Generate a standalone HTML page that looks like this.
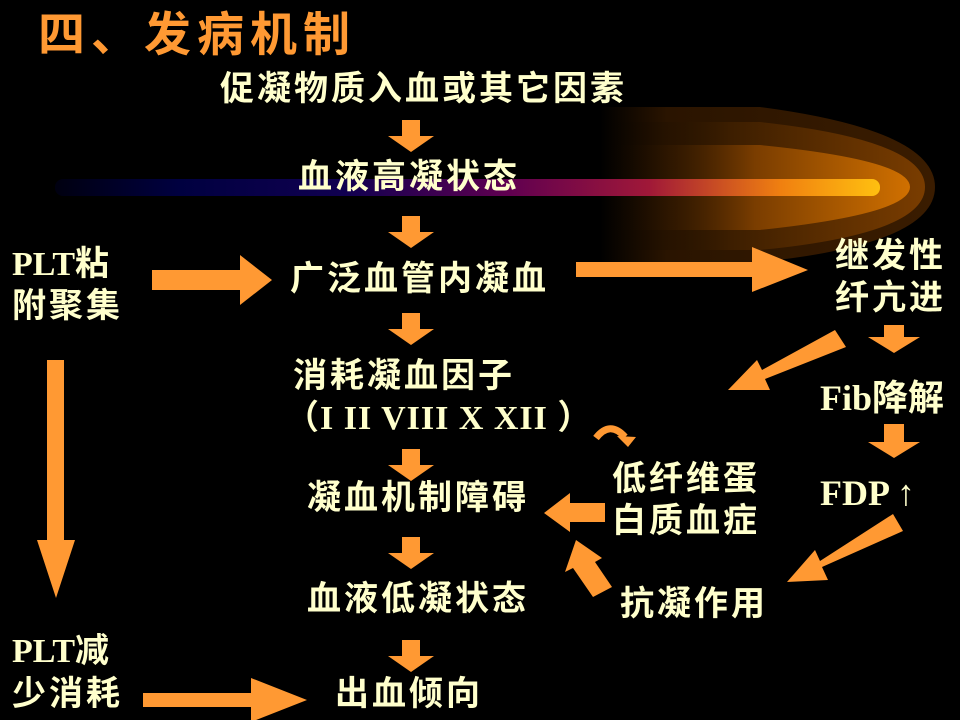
<!DOCTYPE html>
<html><head><meta charset="utf-8"><style>
html,body{margin:0;padding:0;background:#000;}
svg{display:block}
.t{font-family:"Liberation Sans","Noto Sans CJK SC",sans-serif;font-size:34px;fill:#ffffcc;font-weight:bold;letter-spacing:3px}
.s{font-family:"Liberation Serif","Noto Sans CJK SC",serif;font-size:34px;fill:#ffffcc;font-weight:bold}
</style></head><body>
<svg width="960" height="720" viewBox="0 0 960 720" xmlns="http://www.w3.org/2000/svg">
<defs>
<linearGradient id="ln" x1="0" x2="1">
<stop offset="0" stop-color="#000010"/>
<stop offset="0.15" stop-color="#000040"/>
<stop offset="0.35" stop-color="#100050"/>
<stop offset="0.55" stop-color="#600050"/>
<stop offset="0.72" stop-color="#a01838"/>
<stop offset="0.88" stop-color="#f08010"/>
<stop offset="1" stop-color="#ffc010"/>
</linearGradient>
<linearGradient id="g0" x1="0" x2="1">
<stop offset="0" stop-color="#2a1400" stop-opacity="0"/>
<stop offset="0.2" stop-color="#2a1400"/>
<stop offset="1" stop-color="#3a1c00"/>
</linearGradient>
<linearGradient id="gl" x1="0" x2="1">
<stop offset="0" stop-color="#000" stop-opacity="0"/>
<stop offset="0.4" stop-color="#402000"/>
<stop offset="1" stop-color="#8a4500"/>
</linearGradient>
<linearGradient id="gl2" x1="0" x2="1">
<stop offset="0" stop-color="#000" stop-opacity="0"/>
<stop offset="0.5" stop-color="#7a3d00"/>
<stop offset="1" stop-color="#d07000"/>
</linearGradient>
</defs>
<rect width="960" height="720" fill="#000"/>
<!-- comet -->
<path d="M600,107 L760,107 Q935,130 935,187 Q935,244 760,262 L600,262 Z" fill="url(#g0)"/>
<path d="M600,122 L760,122 Q925,140 925,187 Q925,234 760,250 L600,250 Z" fill="url(#gl)" opacity="0.8"/>
<path d="M600,145 L760,145 Q910,160 910,187 Q910,214 760,230 L600,230 Z" fill="url(#gl2)"/>
<rect x="55" y="179" width="825" height="17" rx="8" fill="url(#ln)"/>

<text x="38" y="51" style="font-family:'Liberation Sans','Noto Sans CJK SC',sans-serif;font-size:47px;font-weight:bold;fill:#ff9933;letter-spacing:6px">四、发病机制</text>
<text class="t" x="220" y="100">促凝物质入血或其它因素</text>
<text class="t" x="298" y="188">血液高凝状态</text>
<text class="t" x="290" y="290">广泛血管内凝血</text>
<text class="t" x="293" y="387">消耗凝血因子</text>
<text class="s" x="285" y="429" style="letter-spacing:1px">（I  II  VIII X XII ）</text>
<text class="t" x="307" y="509">凝血机制障碍</text>
<text class="t" x="307" y="610">血液低凝状态</text>
<text class="t" x="335" y="705">出血倾向</text>
<text class="s" x="12" y="275">PLT粘</text>
<text class="t" x="12" y="317">附聚集</text>
<text class="s" x="12" y="662">PLT减</text>
<text class="t" x="12" y="705">少消耗</text>
<text class="t" x="835" y="267">继发性</text>
<text class="t" x="835" y="309">纤亢进</text>
<text class="s" x="820" y="410" style="font-size:36px">Fib降解</text>
<text class="s" x="820" y="505" style="font-size:36px">FDP ↑</text>
<text class="t" x="612" y="490">低纤维蛋</text>
<text class="t" x="612" y="532">白质血症</text>
<text class="t" x="620" y="615">抗凝作用</text>

<g fill="#ff9933">
<path d="M402,120 h18 v16 h14 l-23,16 l-23,-16 h14z"/>
<path d="M402,216 h18 v16 h14 l-23,16 l-23,-16 h14z"/>
<path d="M402,313 h18 v16 h14 l-23,16 l-23,-16 h14z"/>
<path d="M402,449 h18 v16 h14 l-23,16 l-23,-16 h14z"/>
<path d="M402,537 h18 v16 h14 l-23,16 l-23,-16 h14z"/>
<path d="M402,640 h18 v16 h14 l-23,16 l-23,-16 h14z"/>
<path d="M884,325 h20 v12 h16 l-26,16 l-26,-16 h16z"/>
<path d="M884,424 h20 v18 h16 l-26,16 l-26,-16 h16z"/>
<path d="M152,270 h88 v-15 l32,25 l-32,25 v-15 h-88z"/>
<path d="M576,262 h176 v-15 l56,23 l-56,22 v-15 h-176z"/>
<path d="M47,360 h17 v180 h11 l-19,58 l-19,-58 h10z"/>
<path d="M143,693 h108 v-15 l56,22 l-56,22 v-15 h-108z"/>
<path d="M605,503 h-35 v-10 l-26,20 l26,19 v-10 h35z"/>
<path d="M835,330 L846,347 L765,379 L770,390 L728,390 L757,360 L762,370 Z"/>
<path d="M893,514 L903,531 L822,567 L828,580 L787,582 L815,550 L820,561 Z"/>
<path d="M612,587 L593,597 L573,568 L565,572 L576,540 L602,558 L595,562 Z"/>
</g>
<path d="M596,438 Q610,420 625,437" stroke="#ff9933" stroke-width="7" fill="none"/>
<path d="M617,436 L636,437 L628,447 Z" fill="#ff9933"/>
</svg>
</body></html>
